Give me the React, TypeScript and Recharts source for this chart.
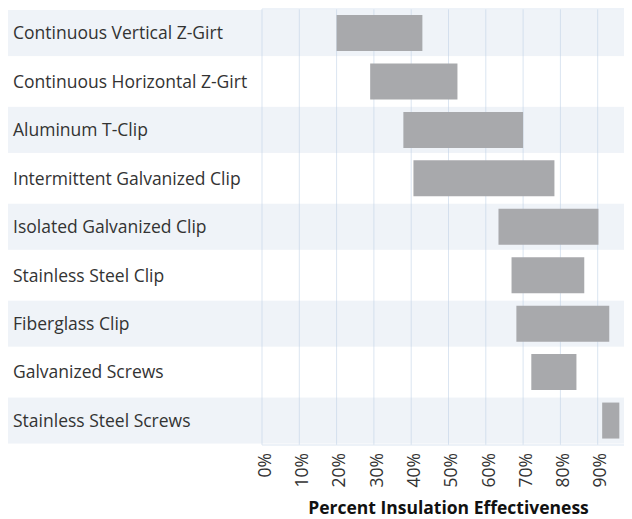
import React from "react";
import {
  BarChart,
  Bar,
  XAxis,
  YAxis,
  CartesianGrid,
  ReferenceArea,
  Label,
} from "recharts";

const categories = [
  "Continuous Vertical Z-Girt",
  "Continuous Horizontal Z-Girt",
  "Aluminum T-Clip",
  "Intermittent Galvanized Clip",
  "Isolated Galvanized Clip",
  "Stainless Steel Clip",
  "Fiberglass Clip",
  "Galvanized Screws",
  "Stainless Steel Screws",
];
const lowValues = [20, 29, 37.9, 40.6, 63.4, 66.9, 68.2, 72.2, 91.2];
const highValues = [43, 52.4, 70, 78.4, 90.2, 86.4, 93.1, 84.3, 95.8];
const xTicks = [0, 10, 20, 30, 40, 50, 60, 70, 80, 90, 100];
const axisTitle = "Percent Insulation Effectiveness";

const data = categories.map((name, i) => ({
  name,
  range: [lowValues[i], highValues[i]],
}));

const CHART_W = 640;
const CHART_H = 511;
const FONT = "'Open Sans', Lato, sans-serif";
const FS = 17.5;
const GRID = "#dbe5f1";
const BAND = "rgba(191,207,227,0.25)";

const YTick = (props: any) => {
  const { y, payload } = props;
  return (
    <text x={5} y={y} dy="0.35em" textAnchor="start" fontFamily={FONT} fontSize={FS} fill="#333">
      {payload.value}
    </text>
  );
};

const XTick = (props: any) => {
  const { x, y, payload } = props;
  return (
    <text
      x={x}
      y={y}
      dy="0.5em"
      textAnchor="end"
      transform={`rotate(-90, ${x}, ${y})`}
      fontFamily={FONT}
      fontSize={FS}
      fill="#333"
    >
      {`${payload.value}%`}
    </text>
  );
};

const BandShape = (props: any) => {
  const { y, height } = props;
  return <rect x={0} y={y + 1} width={CHART_W} height={height - 2.4} fill={BAND} />;
};

export default function App() {
  return (
    <div style={{ width: 624, overflow: "hidden" }}>
      <BarChart
        width={CHART_W}
        height={CHART_H}
        data={data}
        layout="vertical"
        margin={{ top: 1, right: 13, bottom: 0, left: 0 }}
        barCategoryGap={0}
      >
        {categories
          .filter((_, i) => i % 2 === 0)
          .map((c) => (
            <ReferenceArea key={c} y1={c} y2={c} shape={BandShape} ifOverflow="visible" />
          ))}
        <CartesianGrid
          stroke={GRID}
          horizontalCoordinatesGenerator={({ offset }: any) => [offset.top]}
        />
        <XAxis
          type="number"
          domain={[0, 100]}
          ticks={xTicks}
          interval={0}
          height={74}
          axisLine={{ stroke: GRID }}
          tickLine={false}
          tickSize={0}
          tickMargin={8}
          tick={<XTick />}
        >
          <Label
            value={axisTitle}
            position="insideBottom"
            offset={5}
            style={{ fontFamily: FONT, fontSize: FS, fontWeight: 700, fill: "#111" }}
          />
        </XAxis>
        <YAxis
          type="category"
          dataKey="name"
          width={254}
          axisLine={false}
          tickLine={false}
          tick={<YTick />}
          interval={0}
        />
        <Bar dataKey="range" fill="#a8a9ac" barSize={36} isAnimationActive={false} />
      </BarChart>
    </div>
  );
}
